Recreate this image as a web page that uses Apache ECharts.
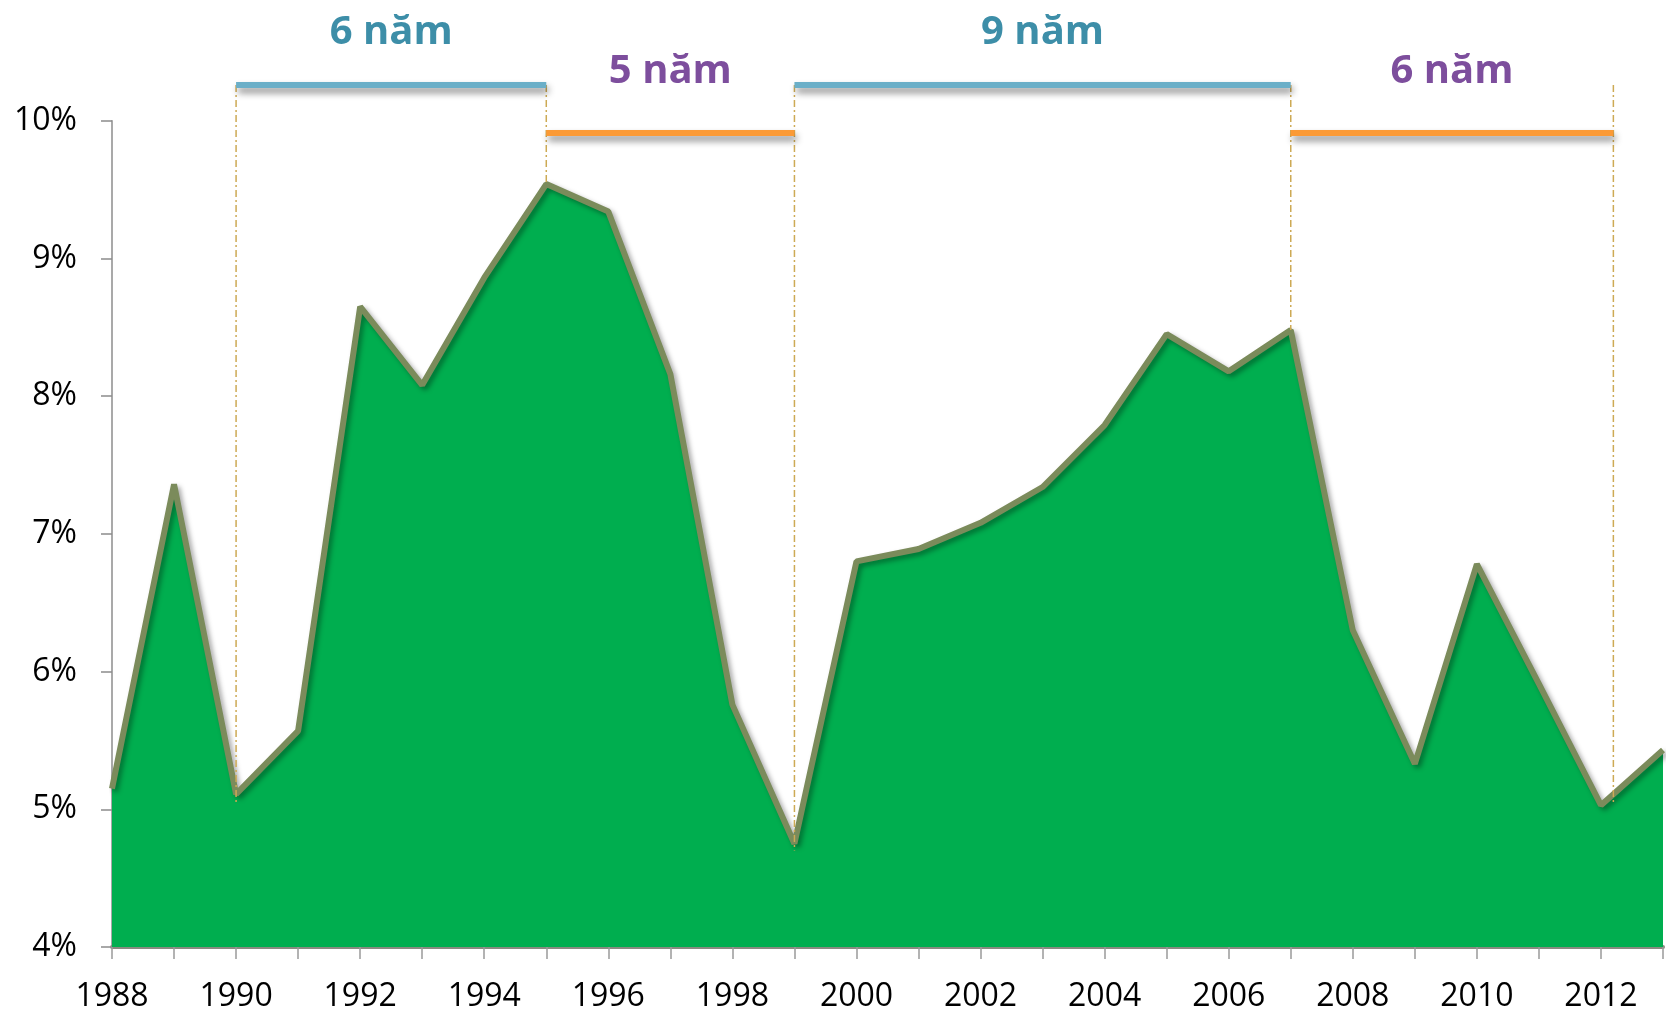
<!DOCTYPE html>
<html>
<head>
<meta charset="utf-8">
<script src="https://cdn.jsdelivr.net/npm/echarts@6/dist/echarts.min.js"></script>
<style>
  html, body { margin: 0; padding: 0; background: #fff; }
  #main { width: 1667px; height: 1013px; }
</style>
</head>
<body>
<div id="main"></div>
<script>
  // so lieu theo nam
  var years = [1988, 1989, 1990, 1991, 1992, 1993, 1994, 1995, 1996, 1997, 1998, 1999, 2000,
    2001, 2002, 2003, 2004, 2005, 2006, 2007, 2008, 2009, 2010, 2011, 2012, 2013]
  var rates = [5.15, 7.36, 5.11, 5.57, 8.65, 8.08, 8.86, 9.54, 9.34, 8.16, 5.76, 4.75, 6.80,
    6.89, 7.08, 7.34, 7.79, 8.45, 8.18, 8.48, 6.30, 5.33, 6.78, 5.91, 5.03, 5.43]

  // cac giai doan
  var periodStarts = [1990, 1995, 1999, 2007]
  var periodEnds = [1995, 1999, 2007, 2012.2]
  var periodLabels = ['6 năm', '5 năm', '9 năm', '6 năm']

  // duong chia doc
  var dividerYears = [1990, 1995, 1999, 2007, 2012.2]
  var dividerBottoms = [5.05, 9.54, 4.70, 8.48, 5.05]

  var yTicks = [4, 5, 6, 7, 8, 9, 10]

  var FONT = '"Open Sans", "Liberation Sans", sans-serif'

  var chart = echarts.init(document.getElementById('main'))

  var seriesData = years.map(function (y, i) {
    return [y, rates[i]]
  })

  chart.setOption({
    animation: false,
    grid: {
      left: 112,
      right: 4,
      top: 120.7,
      bottom: 65.3
    },
    xAxis: {
      type: 'value',
      min: years[0],
      max: years[years.length - 1],
      interval: 1,
      splitLine: { show: false },
      axisLine: { show: true, lineStyle: { color: '#8a8a80', width: 4 } },
      axisTick: { show: true, length: 12, lineStyle: { color: '#9a9a9a', width: 1.5 } },
      axisLabel: {
        margin: 34,
        color: '#000',
        fontFamily: FONT,
        fontSize: 32,
        showMaxLabel: true,
        formatter: function (v) {
          return v % 2 === 0 ? String(v) : ''
        }
      }
    },
    yAxis: {
      type: 'value',
      min: yTicks[0],
      max: yTicks[yTicks.length - 1],
      interval: 1,
      splitLine: { show: false },
      axisLine: { show: true, lineStyle: { color: '#8c8c8c', width: 1.5 } },
      axisTick: { show: true, length: 11, lineStyle: { color: '#8c8c8c', width: 1.5 } },
      axisLabel: {
        margin: 35,
        color: '#000',
        fontFamily: FONT,
        fontSize: 32,
        formatter: '{value}%'
      }
    },
    series: [
      {
        type: 'line',
        data: seriesData,
        symbol: 'none',
        areaStyle: { color: '#00ae4f', opacity: 1 },
        lineStyle: {
          color: '#7b8b5b',
          width: 6,
          shadowColor: 'rgba(0,0,0,0.35)',
          shadowBlur: 5,
          shadowOffsetX: 3,
          shadowOffsetY: 3
        },
        z: 2
      }
    ]
  })

  // ve chu thich giai doan
  var toPx = function (x, y) {
    return chart.convertToPixel({ xAxisIndex: 0, yAxisIndex: 0 }, [x, y])
  }

  var BLUE_LEVEL = 10.26
  var ORANGE_LEVEL = 9.91
  var BLUE_TEXT_LEVEL = 10.64
  var PURPLE_TEXT_LEVEL = 10.355

  var graphics = []

  dividerYears.forEach(function (yr, i) {
    var top = toPx(yr, BLUE_LEVEL)
    var bot = toPx(yr, dividerBottoms[i])
    graphics.push({
      type: 'line',
      z: 10,
      shape: { x1: top[0], y1: top[1], x2: bot[0], y2: bot[1] },
      style: { stroke: '#cdaa55', lineWidth: 1.5, lineDash: [7, 3, 2, 3] }
    })
  })

  periodStarts.forEach(function (start, i) {
    var isBlue = i % 2 === 0
    var level = isBlue ? BLUE_LEVEL : ORANGE_LEVEL
    var a = toPx(start, level)
    var b = toPx(periodEnds[i], level)
    graphics.push({
      type: 'line',
      z: 11,
      shape: { x1: a[0], y1: a[1], x2: b[0], y2: b[1] },
      style: {
        stroke: isBlue ? '#6bafc8' : '#fb9a36',
        lineWidth: 6,
        shadowColor: 'rgba(0,0,0,0.45)',
        shadowBlur: 7,
        shadowOffsetX: 2,
        shadowOffsetY: 5
      }
    })
    var t = toPx((start + periodEnds[i]) / 2, isBlue ? BLUE_TEXT_LEVEL : PURPLE_TEXT_LEVEL)
    graphics.push({
      type: 'text',
      z: 12,
      x: t[0],
      y: t[1],
      style: {
        text: periodLabels[i],
        fill: isBlue ? '#3d8ea8' : '#7d4e9d',
        font: 'bold 40px ' + FONT,
        align: 'center',
        verticalAlign: 'middle'
      }
    })
  })

  chart.setOption({ graphic: graphics })
</script>
</body>
</html>
